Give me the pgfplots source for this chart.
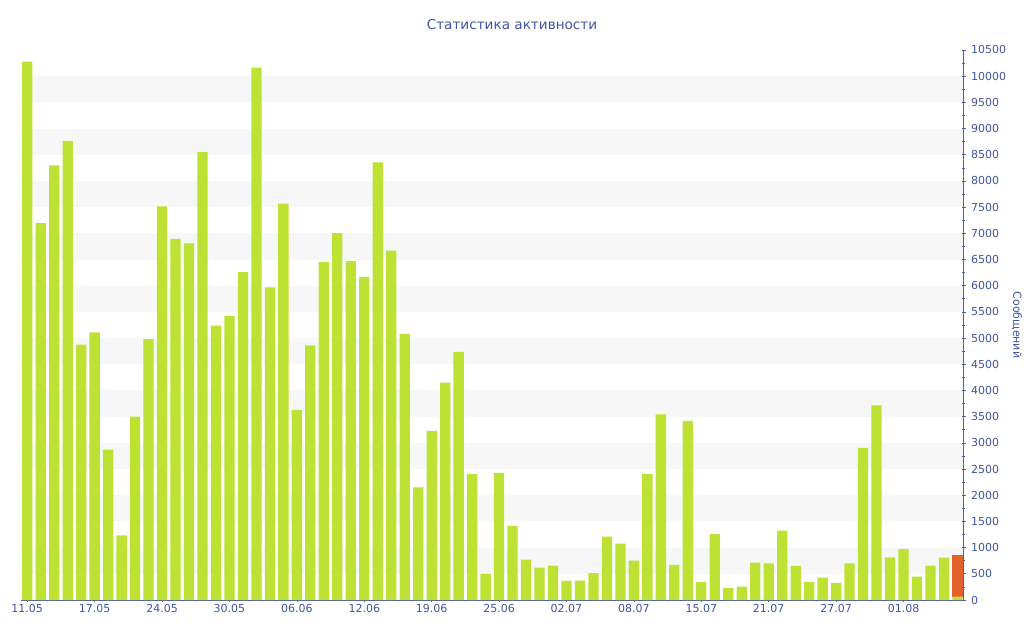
\documentclass[border=0pt]{standalone}
\usepackage{pgfplots}
\pgfplotsset{compat=1.18}
\usepackage{pgfplotstable}
\usepackage{fontspec}
\setmainfont{DejaVu Sans}
\definecolor{barg}{RGB}{189,226,51}
\definecolor{baro}{RGB}{226,98,46}
\definecolor{band}{RGB}{247,247,247}
\definecolor{txt}{RGB}{62,85,160}
\definecolor{axc}{RGB}{80,96,160}
\pgfplotstableread{
x y
0 10280
1 7195
2 8295
3 8765
4 4875
5 5110
6 2870
7 1235
8 3500
9 4980
10 7515
11 6895
12 6810
13 8550
14 5240
15 5420
16 6260
17 10165
18 5970
19 7565
20 3630
21 4860
22 6455
23 7005
24 6470
25 6170
26 8355
27 6670
28 5080
29 2150
30 3230
31 4150
32 4735
33 2405
34 500
35 2425
36 1415
37 770
38 620
39 655
40 365
41 370
42 515
43 1210
44 1075
45 750
46 2410
47 3545
48 670
49 3415
50 340
51 1260
52 230
53 255
54 715
55 700
56 1325
57 650
58 345
59 425
60 325
61 700
62 2905
63 3715
64 815
65 970
66 445
67 655
68 810
69 65
}\greendata
\pgfplotstableread{
x y
0 0
1 0
2 0
3 0
4 0
5 0
6 0
7 0
8 0
9 0
10 0
11 0
12 0
13 0
14 0
15 0
16 0
17 0
18 0
19 0
20 0
21 0
22 0
23 0
24 0
25 0
26 0
27 0
28 0
29 0
30 0
31 0
32 0
33 0
34 0
35 0
36 0
37 0
38 0
39 0
40 0
41 0
42 0
43 0
44 0
45 0
46 0
47 0
48 0
49 0
50 0
51 0
52 0
53 0
54 0
55 0
56 0
57 0
58 0
59 0
60 0
61 0
62 0
63 0
64 0
65 0
66 0
67 0
68 0
69 795
}\orangedata
\pgfplotsset{
  common/.style={
    at={(20.5pt,40pt)}, anchor=south west,
    scale only axis, width=943pt, height=550pt,
    xmin=-0.5, xmax=69.45, ymin=0, ymax=10500,
  }
}
\begin{document}
\begin{tikzpicture}
\useasboundingbox (0pt,0pt) rectangle (1024pt,640pt);
\node[font=\fontsize{13.6}{15}\selectfont, text=txt] at (512pt,615pt) {Статистика активности};
\begin{axis}[common, hide axis]
\fill[band] (axis cs:-0.5,500) rectangle (axis cs:69.45,1000);
\fill[band] (axis cs:-0.5,1500) rectangle (axis cs:69.45,2000);
\fill[band] (axis cs:-0.5,2500) rectangle (axis cs:69.45,3000);
\fill[band] (axis cs:-0.5,3500) rectangle (axis cs:69.45,4000);
\fill[band] (axis cs:-0.5,4500) rectangle (axis cs:69.45,5000);
\fill[band] (axis cs:-0.5,5500) rectangle (axis cs:69.45,6000);
\fill[band] (axis cs:-0.5,6500) rectangle (axis cs:69.45,7000);
\fill[band] (axis cs:-0.5,7500) rectangle (axis cs:69.45,8000);
\fill[band] (axis cs:-0.5,8500) rectangle (axis cs:69.45,9000);
\fill[band] (axis cs:-0.5,9500) rectangle (axis cs:69.45,10000);
\end{axis}
\begin{axis}[
  common,
  axis x line*=bottom, axis y line*=right,
  axis line style={axc, line width=0.9pt},
  ybar stacked, bar width=10.3pt,
  xtick={0,5,...,65},
  xticklabels={11.05,17.05,24.05,30.05,06.06,12.06,19.06,25.06,02.07,08.07,15.07,21.07,27.07,01.08},
  ytick={0,500,...,10500},
  minor ytick={250,750,...,10250},
  scaled y ticks=false,
  tick align=center,
  major tick length=4pt, minor tick length=3pt,
  tick style={axc, line width=0.7pt},
  /pgf/number format/assume math mode=true,
  /pgf/number format/1000 sep={},
  tick label style={font=\fontsize{11}{13}\selectfont, text=txt},
  xticklabel style={yshift=1pt},
  yticklabel style={xshift=2pt},
  ylabel={Сообщений},
  ylabel style={at={(axis description cs:1.0567,0.5)}, anchor=center, rotate=180, font=\fontsize{11}{13}\selectfont, text=txt},
]
\addplot[fill=barg, draw=none] table[x=x,y=y] {\greendata};
\addplot[fill=baro, draw=none] table[x=x,y=y] {\orangedata};
\end{axis}
\end{tikzpicture}
\end{document}
